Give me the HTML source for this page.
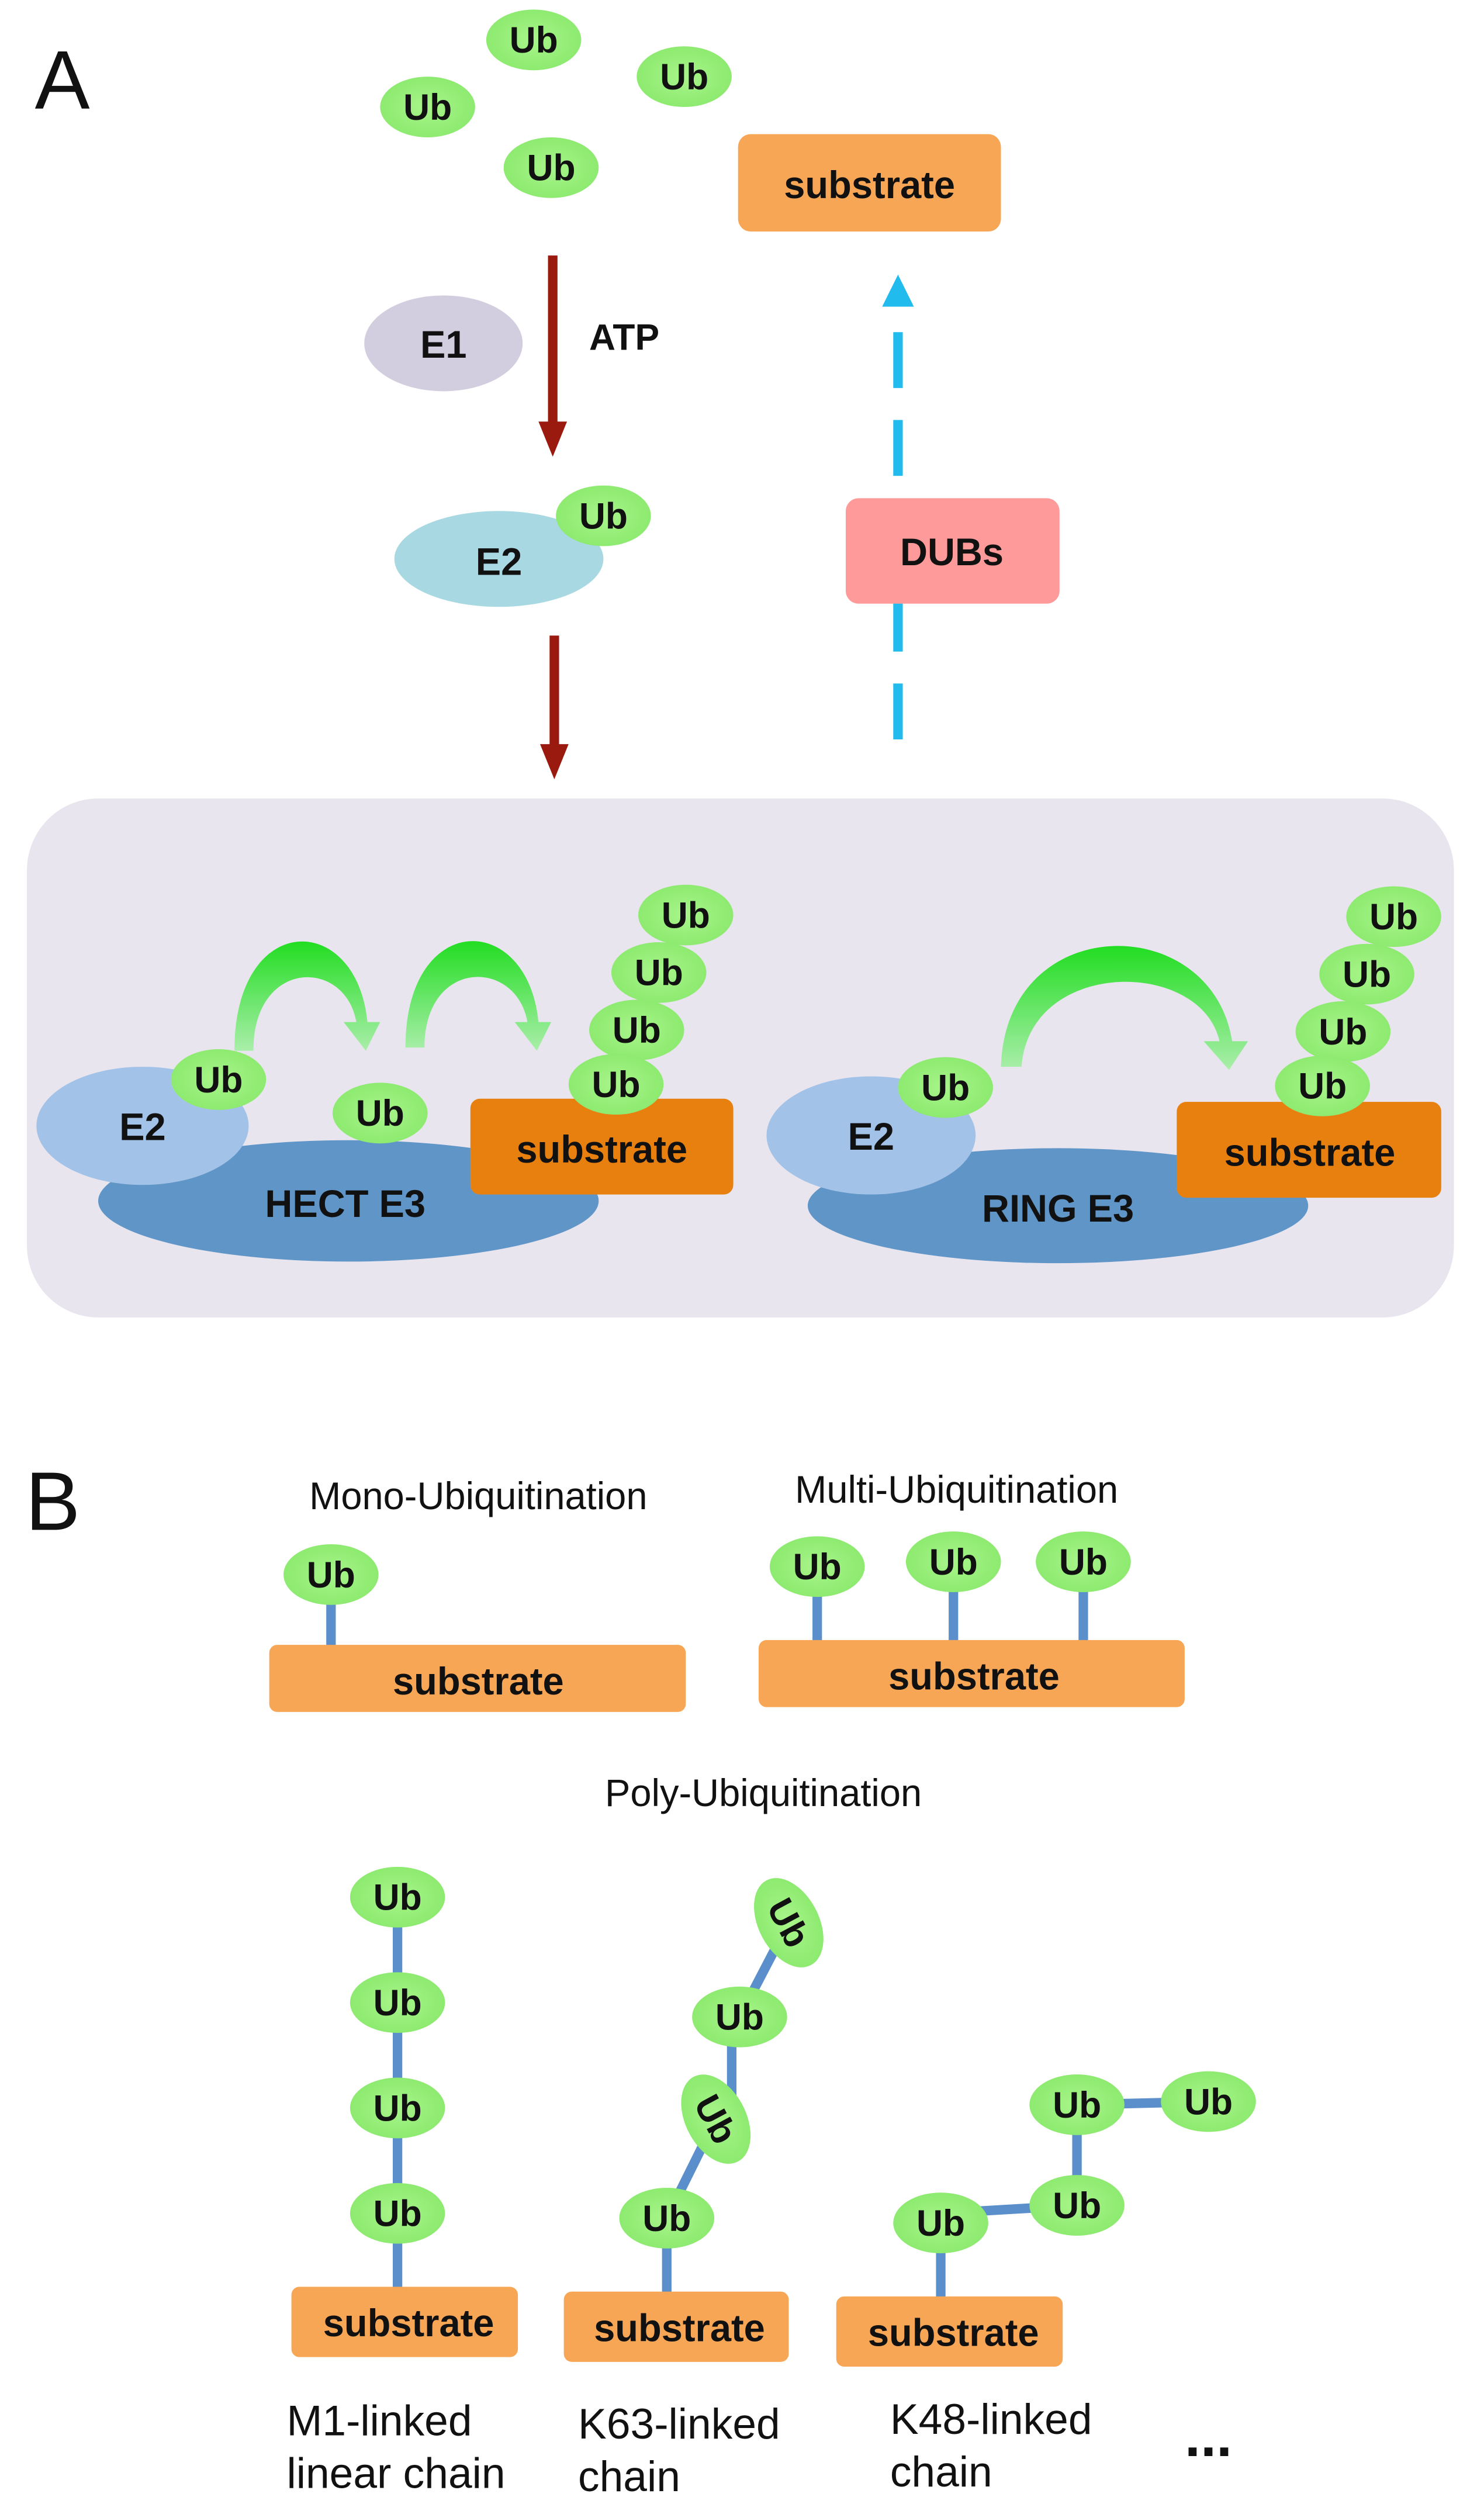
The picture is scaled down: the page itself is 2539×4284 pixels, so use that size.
<!DOCTYPE html>
<html><head><meta charset="utf-8"><style>html,body{margin:0;padding:0;background:#fff}svg{display:block}</style></head>
<body>
<svg width="2539" height="4284" viewBox="0 0 937 1568" preserveAspectRatio="none" xmlns="http://www.w3.org/2000/svg" font-family="Liberation Sans, Arial, sans-serif">
<defs>
<radialGradient id="ub" cx="50%" cy="50%" r="60%"><stop offset="0" stop-color="#a8f58a"/><stop offset="1" stop-color="#88e86a"/></radialGradient>
<linearGradient id="arc" x1="0" y1="0" x2="0" y2="1"><stop offset="0" stop-color="#22dd22"/><stop offset="1" stop-color="#aaeeaa"/></linearGradient>
<g id="u"><ellipse rx="30" ry="19" fill="url(#ub)"/><text y="8" text-anchor="middle" font-size="23" font-weight="bold" fill="#111">Ub</text></g>
</defs>
<text x="22" y="68" font-size="52" fill="#111">A</text>
<use href="#u" x="337" y="25"/><use href="#u" x="270" y="67"/><use href="#u" x="432" y="48"/><use href="#u" x="348" y="105"/>
<rect x="466" y="84" width="166" height="61" rx="8" fill="#f7a655"/>
<text x="549" y="124" text-anchor="middle" font-size="24" font-weight="bold" fill="#111">substrate</text>
<ellipse cx="280" cy="215" rx="50" ry="30" fill="#d3cde0"/><text x="280" y="224" text-anchor="middle" font-size="24" font-weight="bold" fill="#111">E1</text>
<line x1="349" y1="160" x2="349" y2="268" stroke="#9b1a10" stroke-width="6"/><polygon points="340,264 358,264 349,286" fill="#9b1a10"/>
<text x="372" y="219" font-size="23" font-weight="bold" fill="#111">ATP</text>
<ellipse cx="315" cy="350" rx="66" ry="30" fill="#a8d8e2"/><text x="315" y="360" text-anchor="middle" font-size="24" font-weight="bold" fill="#111">E2</text>
<use href="#u" x="381" y="323"/>
<line x1="350" y1="398" x2="350" y2="470" stroke="#9b1a10" stroke-width="6"/><polygon points="341,466 359,466 350,488" fill="#9b1a10"/>
<line x1="567" y1="463" x2="567" y2="190" stroke="#22bbee" stroke-width="6" stroke-dasharray="35,20"/><polygon points="557,192 577,192 567,172" fill="#22bbee"/>
<rect x="534" y="312" width="135" height="66" rx="8" fill="#ff9a9a"/><text x="601" y="354" text-anchor="middle" font-size="24" font-weight="bold" fill="#111">DUBs</text>
<rect x="17" y="500" width="901" height="325" rx="45" fill="#e8e5ee"/>
<!-- HECT -->
<ellipse cx="220" cy="752" rx="158" ry="38" fill="#6095c8"/>
<ellipse cx="90" cy="705" rx="67" ry="37" fill="#a2c2e8"/>
<text x="90" y="714" text-anchor="middle" font-size="24" font-weight="bold" fill="#111">E2</text>
<text x="218" y="762" text-anchor="middle" font-size="24" font-weight="bold" fill="#111">HECT E3</text>
<rect x="297" y="688" width="166" height="60" rx="6" fill="#e8800f"/>
<text x="380" y="728" text-anchor="middle" font-size="24" font-weight="bold" fill="#111">substrate</text>
<use href="#u" x="138" y="676"/><use href="#u" x="240" y="697"/>
<use href="#u" x="433" y="573"/><use href="#u" x="416" y="609"/><use href="#u" x="402" y="645"/><use href="#u" x="389" y="679"/>
<path d="M148,658 C148,570 225,570 232,640 L240,640 L231,658 L217,640 L225,640 C218,600 160,600 160,658 Z" fill="url(#arc)"/>
<path d="M256,656 C256,570 333,570 340,640 L348,640 L339,658 L325,640 L333,640 C326,600 268,600 268,656 Z" fill="url(#arc)"/>
<!-- RING -->
<ellipse cx="668" cy="755" rx="158" ry="36" fill="#6095c8"/>
<ellipse cx="550" cy="711" rx="66" ry="37" fill="#a2c2e8"/>
<text x="550" y="720" text-anchor="middle" font-size="24" font-weight="bold" fill="#111">E2</text>
<text x="668" y="765" text-anchor="middle" font-size="24" font-weight="bold" fill="#111">RING E3</text>
<rect x="743" y="690" width="167" height="60" rx="6" fill="#e8800f"/>
<text x="827" y="730" text-anchor="middle" font-size="24" font-weight="bold" fill="#111">substrate</text>
<use href="#u" x="597" y="681"/>
<use href="#u" x="880" y="574"/><use href="#u" x="863" y="610"/><use href="#u" x="848" y="646"/><use href="#u" x="835" y="680"/>
<path d="M632,668 C635,570 765,570 778,652 L788,652 L776,670 L760,652 L770,652 C758,600 650,600 645,668 Z" fill="url(#arc)"/>
<!-- B -->
<text x="16" y="958" font-size="52" fill="#111">B</text>
<text x="302" y="945" text-anchor="middle" font-size="24" fill="#111">Mono-Ubiquitination</text>
<text x="604" y="941" text-anchor="middle" font-size="24" fill="#111">Multi-Ubiquitination</text>
<g stroke="#5b8fcc" stroke-width="6">
<line x1="209" y1="990" x2="209" y2="1034"/>
<line x1="516" y1="985" x2="516" y2="1030"/><line x1="602" y1="982" x2="602" y2="1030"/><line x1="684" y1="982" x2="684" y2="1030"/>
<line x1="251" y1="1188" x2="251" y2="1434"/>
<line x1="421" y1="1389" x2="421" y2="1437"/><line x1="421" y1="1389" x2="452" y2="1327"/><line x1="462" y1="1327" x2="462" y2="1263"/><line x1="467" y1="1263" x2="498" y2="1204"/>
<line x1="594" y1="1392" x2="594" y2="1440"/><line x1="594" y1="1386" x2="680" y2="1381"/><line x1="680" y1="1381" x2="680" y2="1318"/><line x1="680" y1="1318" x2="763" y2="1316"/>
</g>
<rect x="170" y="1030" width="263" height="42" rx="5" fill="#f7a655"/><text x="302" y="1061" text-anchor="middle" font-size="24" font-weight="bold" fill="#111">substrate</text>
<rect x="479" y="1027" width="269" height="42" rx="5" fill="#f7a655"/><text x="615" y="1058" text-anchor="middle" font-size="24" font-weight="bold" fill="#111">substrate</text>
<use href="#u" x="209" y="986"/><use href="#u" x="516" y="981"/><use href="#u" x="602" y="978"/><use href="#u" x="684" y="978"/>
<text x="482" y="1131" text-anchor="middle" font-size="24" fill="#111">Poly-Ubiquitination</text>
<rect x="184" y="1432" width="143" height="44" rx="5" fill="#f7a655"/><text x="258" y="1463" text-anchor="middle" font-size="24" font-weight="bold" fill="#111">substrate</text>
<rect x="356" y="1435" width="142" height="44" rx="5" fill="#f7a655"/><text x="429" y="1466" text-anchor="middle" font-size="24" font-weight="bold" fill="#111">substrate</text>
<rect x="528" y="1438" width="143" height="44" rx="5" fill="#f7a655"/><text x="602" y="1469" text-anchor="middle" font-size="24" font-weight="bold" fill="#111">substrate</text>
<use href="#u" x="251" y="1188"/><use href="#u" x="251" y="1254"/><use href="#u" x="251" y="1320"/><use href="#u" x="251" y="1386"/>
<use href="#u" x="421" y="1389"/><use href="#u" x="467" y="1263"/>
<g transform="translate(452,1327) rotate(62)"><use href="#u"/></g>
<g transform="translate(498,1204) rotate(62)"><use href="#u"/></g>
<use href="#u" x="594" y="1392"/><use href="#u" x="680" y="1381"/><use href="#u" x="680" y="1318"/><use href="#u" x="763" y="1316"/>
<g font-size="27" fill="#111">
<text x="181" y="1525">M1-linked</text><text x="181" y="1558">linear chain</text>
<text x="365" y="1527">K63-linked</text><text x="365" y="1560">chain</text>
<text x="562" y="1524">K48-linked</text><text x="562" y="1557">chain</text>
</g>
<text x="748" y="1538" font-size="36" font-weight="bold" fill="#111">...</text>
</svg>
</body></html>
